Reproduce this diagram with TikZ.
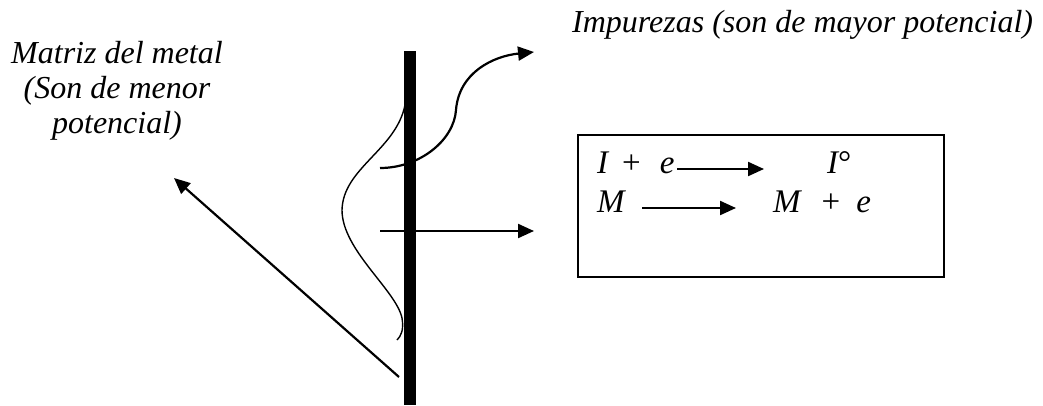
\documentclass[tikz,border=0pt]{standalone}
\usepackage{fontspec}
\setmainfont{Liberation Serif}
\usetikzlibrary{arrows.meta}
\tikzset{
  txt/.style={inner sep=0pt, anchor=base west, font=\fontsize{32}{35}\selectfont\itshape},
  eqt/.style={inner sep=0pt, anchor=base west, font=\fontsize{33}{38}\selectfont\itshape},
  arr/.style={line width=2.2pt, -{Triangle[length=16pt,width=14pt]}},
  wave/.style={line width=1.4pt},
  boxst/.style={draw, line width=2pt, inner sep=0pt}
}
\begin{document}
\begin{tikzpicture}[x=1pt,y=-1pt]
\useasboundingbox (0,0) rectangle (1043,405);
% bar
\fill (404,51) rectangle (416,405);
% labels
\node[txt, anchor=base, align=center] (matriz) at (117,133) {Matriz del metal\\(Son de menor\\potencial)};
\node[txt] (impur) at (572,32) {Impurezas (son de mayor potencial)};
% box
\node[boxst, minimum width=366pt, minimum height=142pt, anchor=north west] (box) at (577,134) {};
\node[eqt] (ie) at (597,173) {I\hspace{14pt}{\upshape +}\hspace{19pt}e};
\node[eqt] (io) at (827,173) {I{\upshape °}};
\node[eqt] (m1) at (597,212) {M};
\node[eqt] (me) at (773,212) {M\hspace{21pt}{\upshape +}\hspace{16pt}e};
\coordinate (a1s) at (677,169);
\coordinate (a1e) at (764,169);
\coordinate (a2s) at (642,208);
\coordinate (a2e) at (736,208);
\draw[arr] (a1s) -- (a1e);
\draw[arr] (a2s) -- (a2e);
% arrows across bar
\coordinate (cs) at (380,168);
\coordinate (ce) at (534,52);
\draw[arr] (cs) .. controls (420,168) and (454,140) .. (456,110) .. controls (459,72) and (494,56) .. (ce);
\coordinate (hs) at (380,231);
\coordinate (he) at (534,231);
\draw[arr] (hs) -- (he);
\coordinate (ds) at (399,377);
\coordinate (de) at (174,178);
\draw[arr] (ds) -- (de);
% wave
\coordinate (ws) at (405,105);
\coordinate (we) at (397,340);
\draw[wave] (ws) .. controls (396,150) and (343,168) .. (342,210) .. controls (342,250) and (396,290) .. (402,318) .. controls (404,330) and (401,336) .. (we);
\end{tikzpicture}
\end{document}
